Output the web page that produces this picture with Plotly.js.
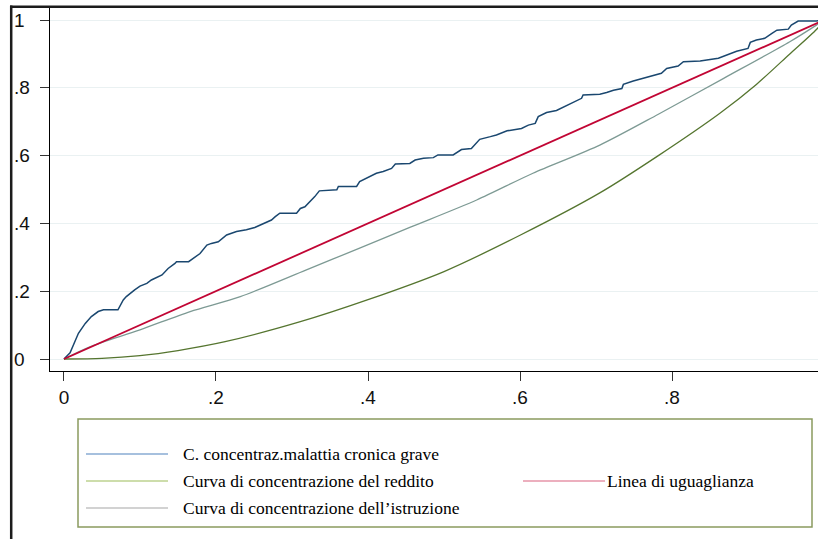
<!DOCTYPE html>
<html>
<head>
<meta charset="utf-8">
<script src="https://cdn.plot.ly/plotly-3.0.1.min.js"></script>
<style>
html,body{margin:0;padding:0;background:#fff;overflow:hidden;width:818px;height:539px;}
#chart{width:860px;height:539px;}
</style>
</head>
<body>
<div id="chart"></div>
<script>
// ---- data ----
const tickVals = [0, 0.2, 0.4, 0.6, 0.8, 1];
const tickText = ['0', '.2', '.4', '.6', '.8', '1'];

const malattiaX = [0,0.008,0.019,0.028,0.036,0.045,0.052,0.071,0.078,0.082,0.093,0.1,0.109,0.115,0.129,0.137,0.146,0.148,0.164,0.168,0.179,0.188,0.194,0.203,0.214,0.227,0.24,0.251,0.258,0.267,0.273,0.278,0.284,0.306,0.311,0.317,0.324,0.33,0.336,0.359,0.361,0.385,0.389,0.398,0.411,0.42,0.431,0.436,0.455,0.462,0.473,0.486,0.492,0.512,0.523,0.536,0.547,0.561,0.569,0.583,0.593,0.602,0.611,0.62,0.624,0.635,0.648,0.659,0.67,0.681,0.683,0.705,0.714,0.723,0.734,0.736,0.749,0.762,0.771,0.786,0.793,0.808,0.815,0.837,0.861,0.872,0.885,0.9,0.903,0.911,0.922,0.931,0.938,0.953,0.957,0.966,0.99,1];
const malattiaY = [0,0.018,0.076,0.105,0.125,0.14,0.145,0.145,0.174,0.184,0.204,0.215,0.223,0.233,0.248,0.267,0.282,0.287,0.287,0.294,0.311,0.336,0.341,0.346,0.366,0.376,0.381,0.388,0.395,0.402,0.41,0.42,0.43,0.43,0.444,0.449,0.464,0.479,0.496,0.499,0.509,0.509,0.523,0.533,0.548,0.553,0.562,0.575,0.577,0.587,0.592,0.594,0.602,0.602,0.618,0.621,0.648,0.656,0.661,0.673,0.676,0.68,0.69,0.695,0.715,0.727,0.733,0.745,0.757,0.769,0.779,0.781,0.786,0.793,0.798,0.81,0.82,0.828,0.835,0.843,0.857,0.864,0.877,0.879,0.887,0.897,0.908,0.916,0.934,0.941,0.946,0.96,0.97,0.973,0.985,0.997,0.997,1];

const redditoX = [0,0.05,0.1,0.15,0.212,0.311,0.4,0.5,0.6,0.705,0.782,0.863,0.911,0.955,0.99,1];
const redditoY = [0,0.002,0.01,0.025,0.051,0.11,0.175,0.258,0.365,0.49,0.6,0.725,0.81,0.9,0.972,1];

const istruzioneX = [0,0.034,0.1,0.166,0.232,0.319,0.389,0.455,0.543,0.617,0.705,0.782,0.868,0.955,0.99,1];
const istruzioneY = [0,0.036,0.086,0.14,0.184,0.263,0.327,0.388,0.469,0.548,0.631,0.722,0.828,0.936,0.985,1];

const ugualX = [0, 1];
const ugualY = [0, 1];

const legendLabels = ['C. concentraz.malattia cronica grave', 'Curva di concentrazione del reddito', 'Curva di concentrazione dell\u2019istruzione', 'Linea di uguaglianza'];

// ---- layout geometry (pixels) ----
const W = 860, H = 539;
const ML = 50, MR = 22, MT = 8, MB = 168;
const PW = W - ML - MR, PH = H - MT - MB;
const px2x = p => (p - ML) / PW;
const py2y = p => (MT + PH - p) / PH;

const traces = [
  {x: istruzioneX, y: istruzioneY, mode: 'lines', line: {color: '#7d9a94', width: 1.3, shape: 'spline', smoothing: 0.8}, hoverinfo: 'skip'},
  {x: redditoX, y: redditoY, mode: 'lines', line: {color: '#55752f', width: 1.3, shape: 'spline', smoothing: 0.8}, hoverinfo: 'skip'},
  {x: malattiaX, y: malattiaY, mode: 'lines', line: {color: '#1a476f', width: 1.5}, hoverinfo: 'skip'},
  {x: ugualX, y: ugualY, mode: 'lines', line: {color: '#c10534', width: 1.8}, hoverinfo: 'skip'}
];

const annotations = tickVals.map((v, i) => ({
  xref: 'paper', yref: 'y', x: px2x(12), y: v, text: tickText[i],
  xanchor: 'left', yanchor: 'middle', showarrow: false,
  font: {family: 'Liberation Sans, Arial, sans-serif', size: 19, color: '#111'}
}));

const legRows = [454, 481, 508, 481];
const legLineX = [[86, 168], [86, 168], [86, 168], [523, 605]];
const legTextX = [181, 181, 181, 605];
const legColors = ['#4f81bd', '#9bbb59', '#a6a6a6', '#d9607f'];

const shapes = [
  // outer frame
  {type: 'line', xref: 'paper', yref: 'paper', x0: px2x(11.2), x1: px2x(11.2), y0: py2y(5.5), y1: py2y(545), line: {color: '#1c1c1c', width: 2.5}},
  {type: 'line', xref: 'paper', yref: 'paper', x0: px2x(10), x1: px2x(870), y0: py2y(6.8), y1: py2y(6.8), line: {color: '#1c1c1c', width: 2.5}},
  // legend box
  {type: 'rect', xref: 'paper', yref: 'paper', x0: px2x(78), x1: px2x(812), y0: py2y(527), y1: py2y(419), line: {color: '#8a9a5f', width: 1.5}, fillcolor: 'rgba(0,0,0,0)'}
];

legendLabels.forEach((t, i) => {
  shapes.push({type: 'line', xref: 'paper', yref: 'paper', x0: px2x(legLineX[i][0]), x1: px2x(legLineX[i][1]), y0: py2y(legRows[i]), y1: py2y(legRows[i]), line: {color: legColors[i], width: 1.2}});
  annotations.push({xref: 'paper', yref: 'paper', x: px2x(legTextX[i]), y: py2y(legRows[i]), text: t, xanchor: 'left', yanchor: 'middle', showarrow: false,
    font: {family: 'Liberation Serif, Times New Roman, serif', size: 17.5, color: '#000'}});
});

const layout = {
  width: W, height: H,
  margin: {l: ML, r: MR, t: MT, b: MB, pad: 0},
  paper_bgcolor: '#fff', plot_bgcolor: '#fff',
  showlegend: false,
  xaxis: {
    range: [-0.0184, 1.0184], showgrid: false, zeroline: false,
    showline: true, linecolor: '#000', linewidth: 1,
    ticks: 'outside', ticklen: 9, tickwidth: 1, tickcolor: '#333',
    tickvals: tickVals, ticktext: tickText,
    tickfont: {family: 'Liberation Sans, Arial, sans-serif', size: 19, color: '#111'}
  },
  yaxis: {
    range: [-0.0354, 1.0354], showgrid: true, gridcolor: '#eaf1f2', gridwidth: 1, zeroline: false,
    showline: true, linecolor: '#000', linewidth: 1,
    ticks: 'outside', ticklen: 9, tickwidth: 1, tickcolor: '#333',
    tickvals: tickVals, showticklabels: false
  },
  shapes: shapes,
  annotations: annotations
};

Plotly.newPlot('chart', traces, layout, {staticPlot: true, displayModeBar: false});
</script>
</body>
</html>
